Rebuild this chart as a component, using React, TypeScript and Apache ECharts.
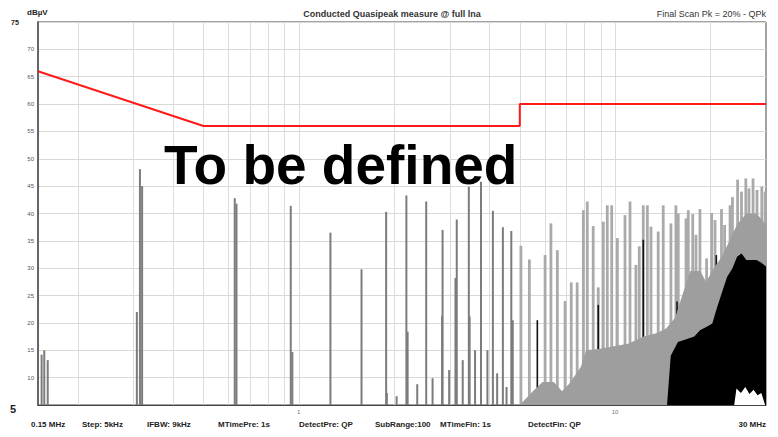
import React, { useEffect, useRef } from "react";
import * as echarts from "echarts";

// ---- axis / tick data ----
const yMin = 5;
const yMax = 75;
const yStep = 5;
const fMin = 0.15;
const fMax = 30;
const gridFreqs = [0.2, 0.3, 0.4, 0.5, 0.6, 0.7, 0.8, 0.9, 1, 2, 3, 4, 5, 6, 7, 8, 9, 10, 20];
const xTickLabels = [1, 10];

// ---- limit line (QP) ----
const limitFreqs = [0.15, 0.5, 5, 5, 30];
const limitLevels = [66, 56, 56, 60, 60];

// ---- spectrum spikes below 5 MHz ----
const lowSpikeFreqs = [0.154, 0.157, 0.161, 0.308, 0.315, 0.32, 0.628, 0.636, 0.944, 0.955, 1.26, 1.58, 1.89, 1.9, 2.04, 2.19, 2.21, 2.37, 2.53, 2.65, 2.84, 2.85, 2.99, 3.13, 3.16, 3.3, 3.45, 3.47, 3.61, 3.77, 3.95, 4.11, 4.24, 4.42, 4.54, 4.7, 4.75];
const lowSpikeLevels = [14.2, 15.0, 13.2, 22.0, 48.1, 45.0, 42.8, 41.8, 41.4, 14.7, 36.5, 29.8, 40.3, 7.2, 6.6, 43.3, 18.4, 8.8, 42.2, 9.9, 21.3, 37.0, 11.4, 28.2, 38.9, 13.2, 44.9, 21.2, 15.0, 45.8, 15.0, 40.5, 10.8, 37.5, 8.3, 36.8, 20.5];

// ---- spectrum spikes above 5 MHz ----
const highSpikeFreqs = [5.04, 5.36, 6.01, 6.27, 6.57, 6.95, 7.27, 7.59, 7.94, 8.17, 8.53, 8.85, 9.18, 9.45, 9.76, 10.17, 10.75, 11.15, 11.64, 11.93, 12.28, 12.65, 12.99, 13.69, 14.2, 15.02, 15.57, 15.84, 16.76, 17.04, 17.6, 18.02, 18.55, 19.47, 20.2, 20.7, 21.7, 22.2, 23.1, 23.5, 24.4, 25.1, 25.9, 26.5, 27.3, 28.1, 29.1, 29.8];
const highSpikeLevels = [34.1, 31.6, 32.4, 38.2, 33.3, 24.0, 27.4, 27.4, 40.6, 42.2, 37.7, 26.5, 38.5, 41.5, 41.5, 35.5, 39.7, 42.2, 30.6, 34.0, 41.5, 41.5, 37.6, 36.7, 41.5, 38.2, 41.5, 40.0, 39.1, 40.6, 39.9, 36.1, 40.8, 31.8, 40.1, 38.8, 40.8, 37.9, 41.5, 43.0, 46.2, 44.0, 46.4, 44.6, 46.4, 44.3, 44.9, 44.0];

// ---- dark (black) single lines ----
const darkFreqs = [5.68, 8.85, 9.6, 12.28, 15.7, 20.9];
const darkLevels = [20.5, 23.3, 12.3, 35.2, 23.9, 32.4];

// ---- grey noise floor ----
const greyFloorFreqs = [5.0, 5.5, 5.9, 6.4, 6.8, 7.2, 7.8, 8.1, 9.0, 10.0, 11.0, 12.3, 13.5, 14.5, 15.5, 16.3, 17.3, 18.6, 19.4, 20.5, 21.7, 23.0, 24.3, 26.0, 28.0, 30.0];
const greyFloorLevels = [5, 7.5, 9.2, 9.2, 7.5, 9, 12, 15, 15.3, 15.8, 16.2, 17.5, 18.1, 19, 21, 25, 29.5, 29.5, 27.5, 30, 32, 35, 38, 40, 40, 38];

// ---- black noise floor ----
const blackFloorFreqs = [14.6, 15.0, 15.8, 16.8, 17.8, 18.6, 19.5, 20.3, 20.9, 21.9, 22.6, 23.5, 24.3, 25.1, 26.0, 27.0, 28.0, 29.0, 30.0];
const blackFloorLevels = [5, 14, 16.5, 17, 17.5, 18.7, 19.3, 19.9, 22.4, 26, 28.4, 30, 32.1, 32.7, 31.5, 31.5, 31.5, 31, 30.3];

// ---- white dip at the bottom right ----
const whiteDipFreqs = [23.8, 24.2, 25.0, 25.8, 26.6, 27.4, 28.2, 29.0, 29.8];
const whiteDipLevels = [5, 8, 7.2, 8.3, 7.0, 7.8, 6.8, 7.2, 5];

// ---- texts ----
const yUnit = "dBµV";
const titleText = "Conducted Quasipeak measure @ full lna";
const scanText = "Final Scan Pk = 20% - QPk";
const overlayText = "To be defined";
const startLabel = "0.15 MHz";
const stopLabel = "30 MHz";
const footerTexts = ["Step: 5kHz", "IFBW: 9kHz", "MTimePre: 1s", "DetectPre: QP", "SubRange:100", "MTimeFin: 1s", "DetectFin: QP"];

const FONT = "'Liberation Sans', Arial, sans-serif";

const zip = (a: number[], b: number[]) => a.map((v, i) => [v, b[i]]);

const spikeRender = (w: number, color: string) => (params: any, api: any) => {
  const top = api.coord([api.value(0), api.value(1)]);
  const base = api.coord([api.value(0), yMin]);
  return {
    type: "rect",
    shape: { x: top[0] - w / 2, y: top[1], width: w, height: base[1] - top[1] },
    style: { fill: color },
  };
};

export default function App() {
  const ref = useRef<HTMLDivElement>(null);
  useEffect(() => {
    if (!ref.current) return;
    const chart = echarts.init(ref.current, undefined, { renderer: "svg" });
    const footerX = [82, 147, 218, 299, 375, 440, 528];
    const option: any = {
      animation: false,
      backgroundColor: "#ffffff",
      grid: { left: 38, top: 22, right: 12, bottom: 32, show: true, borderColor: "#444", borderWidth: 1 },
      xAxis: {
        type: "log",
        logBase: 10,
        min: fMin,
        max: fMax,
        axisLine: { show: true, lineStyle: { color: "#444", width: 1 } },
        axisTick: { show: false },
        splitLine: { show: false },
        axisLabel: {
          fontSize: 6,
          color: "#777",
          margin: 4,
          fontFamily: FONT,
          showMinLabel: false,
          showMaxLabel: false,
          formatter: (v: number) => (xTickLabels.some((t) => Math.abs(t - v) < 1e-9) ? String(v) : ""),
        },
      },
      yAxis: {
        type: "value",
        min: yMin,
        max: yMax,
        interval: yStep,
        axisLine: { show: true, lineStyle: { color: "#666", width: 2 } },
        axisTick: { show: false },
        splitLine: { show: true, lineStyle: { color: "#d9d9d9", width: 1 } },
        axisLabel: {
          fontSize: 6,
          color: "#555",
          margin: 4,
          fontFamily: FONT,
          formatter: (v: number) => (v === yMin || v === yMax ? "" : String(v)),
        },
      },
      series: [
        {
          type: "custom",
          name: "grid",
          silent: true,
          data: gridFreqs.map((f) => [f]),
          renderItem: (params: any, api: any) => {
            const a = api.coord([api.value(0), yMin]);
            const b = api.coord([api.value(0), yMax]);
            const x = Math.round(a[0]) + 0.5;
            return { type: "line", shape: { x1: x, y1: a[1], x2: x, y2: b[1] }, style: { stroke: "#dcdcdc", lineWidth: 1 } };
          },
        },
        {
          type: "line",
          name: "greyFloor",
          data: zip(greyFloorFreqs, greyFloorLevels),
          symbol: "none",
          lineStyle: { width: 0 },
          areaStyle: { color: "#9e9e9e", opacity: 1 },
          silent: true,
        },
        {
          type: "custom",
          name: "lowSpikes",
          data: zip(lowSpikeFreqs, lowSpikeLevels),
          renderItem: spikeRender(2, "#7c7c7c"),
          silent: true,
        },
        {
          type: "custom",
          name: "highSpikes",
          data: zip(highSpikeFreqs, highSpikeLevels),
          renderItem: spikeRender(2.8, "#aaaaaa"),
          silent: true,
        },
        {
          type: "line",
          name: "blackFloor",
          data: zip(blackFloorFreqs, blackFloorLevels),
          symbol: "none",
          lineStyle: { width: 0 },
          areaStyle: { color: "#000000", opacity: 1 },
          silent: true,
        },
        {
          type: "custom",
          name: "darkLines",
          data: zip(darkFreqs, darkLevels),
          renderItem: spikeRender(1.6, "#111111"),
          silent: true,
        },
        {
          type: "line",
          name: "whiteDip",
          data: zip(whiteDipFreqs, whiteDipLevels),
          symbol: "none",
          lineStyle: { width: 0 },
          areaStyle: { color: "#ffffff", opacity: 1 },
          silent: true,
        },
        {
          type: "line",
          name: "limit",
          data: zip(limitFreqs, limitLevels),
          symbol: "none",
          lineStyle: { color: "#ff1a1a", width: 2 },
          silent: true,
        },
      ],
      graphic: [
        { type: "text", left: 27, top: 8, style: { text: yUnit, fontSize: 8, fontWeight: "bold", fill: "#222", fontFamily: FONT } },
        { type: "text", left: 11, top: 19, style: { text: String(yMax), fontSize: 7, fontWeight: "bold", fill: "#222", fontFamily: FONT } },
        { type: "text", left: 10, top: 403, style: { text: String(yMin), fontSize: 11, fontWeight: "bold", fill: "#222", fontFamily: FONT } },
        { type: "text", x: 392, y: 14, style: { text: titleText, fontSize: 9, fontWeight: "bold", fill: "#333", fontFamily: FONT, align: "center", verticalAlign: "middle" } },
        { type: "text", x: 766, y: 14, style: { text: scanText, fontSize: 9, fill: "#333", fontFamily: FONT, align: "right", verticalAlign: "middle" } },
        { type: "text", x: 31, y: 424, style: { text: startLabel, fontSize: 8, fontWeight: "bold", fill: "#222", fontFamily: FONT, verticalAlign: "middle" } },
        { type: "text", x: 766, y: 424, style: { text: stopLabel, fontSize: 8, fontWeight: "bold", fill: "#222", fontFamily: FONT, align: "right", verticalAlign: "middle" } },
        ...footerTexts.map((t, i) => ({
          type: "text",
          x: footerX[i],
          y: 424,
          style: { text: t, fontSize: 8, fontWeight: "bold", fill: "#222", fontFamily: FONT, verticalAlign: "middle" },
        })),
        { type: "text", x: 164, y: 165, z: 100, style: { text: overlayText, fontSize: 55, fontWeight: "bold", fill: "#000", fontFamily: FONT, verticalAlign: "middle" } },
      ],
    };
    chart.setOption(option);
    return () => chart.dispose();
  }, []);
  return <div ref={ref} style={{ position: "fixed", left: 0, top: 0, width: 778, height: 437, background: "#fff" }} />;
}
